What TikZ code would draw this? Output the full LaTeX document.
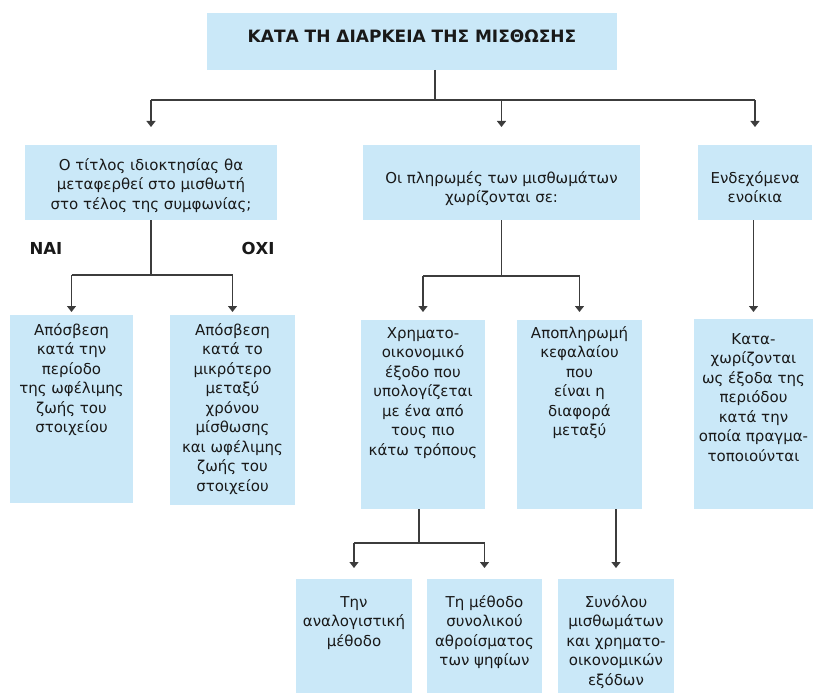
\documentclass[tikz,border=0pt]{standalone}
\usepackage{fontspec}
\setmainfont{DejaVu Sans}
\usetikzlibrary{arrows.meta}

\definecolor{boxblue}{RGB}{202,232,248}
\definecolor{inkgray}{RGB}{25,25,25}
\definecolor{linegray}{RGB}{60,60,60}

% Box given by its corners (x1,y1)-(x2,y2); #6 = distance from the top edge
% to the first baseline of the text, which is hung from the top.
\newcommand\flowbox[7]{%
  \node[box, minimum width={#4pt-#2pt}, minimum height={#5pt-#3pt},
        label={[boxtext, yshift={12pt-#6pt}]north:{\rule{0pt}{12pt}#7}}]
        (#1) at ({(#2+#4)/2},{(#3+#5)/2}) {};}

\begin{document}
\begin{tikzpicture}[x=1pt, y=-1pt,
  box/.style={fill=boxblue, draw=none, inner sep=0pt, outer sep=0pt},
  boxtext/.style={anchor=north, align=center, inner sep=0pt, text=inkgray,
                  font=\fontsize{15}{19.5}\selectfont},
  yesno/.style={text=inkgray, font=\fontsize{16.5}{19}\selectfont\bfseries},
  line/.style={draw=linegray, line width=1.3pt},
  arr/.style={line, -{Triangle[width=9pt,length=6pt]}}]

\useasboundingbox (0,0) rectangle (815,693);

% title
\node[box, minimum width=410pt, minimum height=57pt,
      label={[anchor=north, inner sep=0pt, text=inkgray,
              font=\fontsize{17}{20}\selectfont\bfseries, yshift={15pt-29pt}]
             north:{\rule{0pt}{15pt}ΚΑΤΑ ΤΗ ΔΙΑΡΚΕΙΑ ΤΗΣ ΜΙΣΘΩΣΗΣ}}]
      (T) at (412,41.5) {};

% first level
\flowbox{A}{25}{145}{277}{220}{25}{Ο τίτλος ιδιοκτησίας θα\\μεταφερθεί στο μισθωτή\\στο τέλος της συμφωνίας;}
\flowbox{B}{363}{145}{640}{220}{38}{Οι πληρωμές των μισθωμάτων\\χωρίζονται σε:}
\flowbox{C}{698}{145}{812}{220}{38}{Ενδεχόμενα\\ενοίκια}

% second level
\flowbox{A1}{10}{315}{133}{503}{20}{Απόσβεση\\κατά την\\περίοδο\\της ωφέλιμης\\ζωής του\\στοιχείου}
\flowbox{A2}{170}{315}{295}{505}{20}{Απόσβεση\\κατά το\\μικρότερο\\μεταξύ\\χρόνου\\μίσθωσης\\και ωφέλιμης\\ζωής του\\στοιχείου}
\flowbox{B1}{361}{320}{485}{509}{18}{Χρηματο-\\οικονομικό\\έξοδο που\\υπολογίζεται\\με ένα από\\τους πιο\\κάτω τρόπους}
\flowbox{B2}{517}{320}{642}{509}{18}{Αποπληρωμή\\κεφαλαίου\\που\\είναι η\\διαφορά\\μεταξύ}
\flowbox{C1}{694}{319}{813}{509}{25}{Κατα-\\χωρίζονται\\ως έξοδα της\\περιόδου\\κατά την\\οποία πραγμα-\\τοποιούνται}

% third level
\flowbox{B11}{296}{579}{412}{693}{28}{Την\\αναλογιστική\\μέθοδο}
\flowbox{B12}{427}{579}{542}{693}{28}{Τη μέθοδο\\συνολικού\\αθροίσματος\\των ψηφίων}
\flowbox{B21}{558}{579}{674}{693}{28}{Συνόλου\\μισθωμάτων\\και χρηματο-\\οικονομικών\\εξόδων}

% answers on the question branch
\node[yesno] (yes) at (46,248) {ΝΑΙ};
\node[yesno] (no) at (258,248) {ΟΧΙ};

% junction points
\coordinate (jT) at (435,100);
\coordinate (jA) at (152,275);
\coordinate (jB) at (502,276);
\coordinate (jB1) at (419,543);

% title to first level
\draw[line] (T.south -| jT) -- (jT);
\draw[line] (A.north |- jT) -- (C.north |- jT);
\foreach \n in {A,B,C}
  \draw[arr, shorten >=18pt] (\n.north |- jT) -- (\n.north);

% question branch
\draw[line] (A.south) -- (A.south |- jA);
\draw[line] (A1.north |- jA) -- (A2.north |- jA);
\foreach \n in {A1,A2}
  \draw[arr, shorten >=3pt] (\n.north |- jA) -- (\n.north);

% payments branch
\draw[line] (B.south) -- (B.south |- jB);
\draw[line] (B1.north |- jB) -- (B2.north |- jB);
\foreach \n in {B1,B2}
  \draw[arr, shorten >=8pt] (\n.north |- jB) -- (\n.north);

% contingent rents
\draw[arr, shorten >=7pt] (C1.north |- C.south) -- (C1.north);

% finance charge methods
\draw[line] (B1.south -| jB1) -- (jB1);
\draw[line] (B11.north |- jB1) -- (B12.north |- jB1);
\foreach \n in {B11,B12}
  \draw[arr, shorten >=11pt] (\n.north |- jB1) -- (\n.north);

% principal repayment
\draw[arr, shorten >=11pt] (B21.north |- B2.south) -- (B21.north);

\end{tikzpicture}
\end{document}
